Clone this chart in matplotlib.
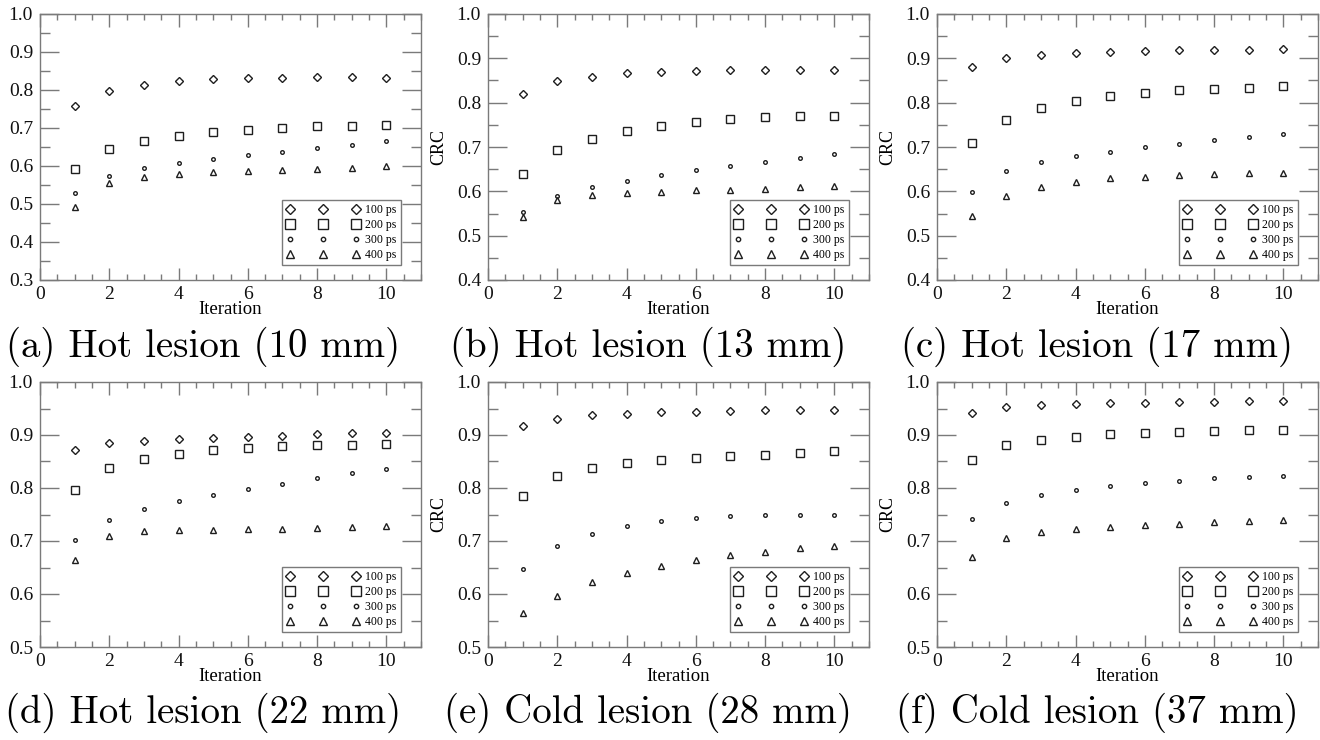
import numpy as np
import matplotlib
matplotlib.use('Agg')
import matplotlib.pyplot as plt
from matplotlib.ticker import MultipleLocator, FormatStrFormatter

plt.rcParams['font.family'] = ['Liberation Serif', 'DejaVu Serif']

iterations = np.arange(1, 11)
labels = ['100 ps', '200 ps', '300 ps', '400 ps']

# CRC values, one list per timing resolution
hot10_100 = [0.757, 0.798, 0.814, 0.824, 0.828, 0.831, 0.832, 0.833, 0.833, 0.832]
hot10_200 = [0.593, 0.644, 0.666, 0.680, 0.689, 0.696, 0.701, 0.704, 0.706, 0.707]
hot10_300 = [0.530, 0.575, 0.594, 0.608, 0.618, 0.629, 0.638, 0.647, 0.656, 0.665]
hot10_400 = [0.493, 0.555, 0.572, 0.579, 0.584, 0.587, 0.590, 0.593, 0.596, 0.600]

hot13_100 = [0.819, 0.848, 0.859, 0.866, 0.870, 0.872, 0.873, 0.873, 0.873, 0.873]
hot13_200 = [0.640, 0.693, 0.719, 0.736, 0.748, 0.757, 0.763, 0.767, 0.769, 0.770]
hot13_300 = [0.553, 0.590, 0.610, 0.624, 0.636, 0.647, 0.657, 0.666, 0.675, 0.684]
hot13_400 = [0.541, 0.581, 0.591, 0.596, 0.599, 0.602, 0.604, 0.606, 0.609, 0.612]

hot17_100 = [0.880, 0.901, 0.908, 0.912, 0.914, 0.916, 0.918, 0.919, 0.919, 0.920]
hot17_200 = [0.708, 0.761, 0.788, 0.804, 0.815, 0.822, 0.828, 0.831, 0.834, 0.837]
hot17_300 = [0.599, 0.645, 0.666, 0.679, 0.689, 0.699, 0.707, 0.715, 0.723, 0.730]
hot17_400 = [0.544, 0.590, 0.610, 0.621, 0.629, 0.633, 0.637, 0.639, 0.641, 0.642]

hot22_100 = [0.872, 0.884, 0.889, 0.893, 0.895, 0.897, 0.899, 0.901, 0.903, 0.903]
hot22_200 = [0.797, 0.838, 0.855, 0.865, 0.871, 0.875, 0.879, 0.881, 0.882, 0.883]
hot22_300 = [0.701, 0.739, 0.760, 0.775, 0.787, 0.799, 0.808, 0.818, 0.828, 0.836]
hot22_400 = [0.665, 0.709, 0.718, 0.720, 0.721, 0.722, 0.723, 0.725, 0.726, 0.728]

cold28_100 = [0.917, 0.931, 0.937, 0.940, 0.943, 0.944, 0.945, 0.947, 0.948, 0.948]
cold28_200 = [0.784, 0.822, 0.838, 0.847, 0.852, 0.857, 0.860, 0.863, 0.866, 0.869]
cold28_300 = [0.647, 0.691, 0.714, 0.728, 0.738, 0.744, 0.748, 0.750, 0.750, 0.749]
cold28_400 = [0.564, 0.597, 0.622, 0.640, 0.653, 0.664, 0.673, 0.680, 0.686, 0.691]

cold37_100 = [0.942, 0.952, 0.956, 0.958, 0.960, 0.961, 0.962, 0.963, 0.964, 0.964]
cold37_200 = [0.853, 0.881, 0.891, 0.897, 0.901, 0.904, 0.906, 0.908, 0.909, 0.910]
cold37_300 = [0.741, 0.771, 0.786, 0.797, 0.804, 0.810, 0.814, 0.818, 0.820, 0.822]
cold37_400 = [0.670, 0.706, 0.717, 0.723, 0.727, 0.730, 0.732, 0.735, 0.737, 0.740]

captions = ['(a) Hot lesion (10 mm)', '(b) Hot lesion (13 mm)', '(c) Hot lesion (17 mm)',
            '(d) Hot lesion (22 mm)', '(e) Cold lesion (28 mm)', '(f) Cold lesion (37 mm)']
ymins = [0.3, 0.4, 0.4, 0.5, 0.5, 0.5]
panels = [
    [hot10_100, hot10_200, hot10_300, hot10_400],
    [hot13_100, hot13_200, hot13_300, hot13_400],
    [hot17_100, hot17_200, hot17_300, hot17_400],
    [hot22_100, hot22_200, hot22_300, hot22_400],
    [cold28_100, cold28_200, cold28_300, cold28_400],
    [cold37_100, cold37_200, cold37_300, cold37_400],
]

markers = ['D', 's', 'o', '^']
msizes = [4.0, 5.5, 2.6, 5.0]
ink = '#1e1e1e'
frame = '#7a7a7a'

W, H = 1320, 740
fig = plt.figure(figsize=(13.2, 7.4), dpi=100)

lefts = [40, 488, 937]
rows = [(14, 280), (382, 647)]
cap_x = [203, 648, 1097]
cap_y = [347, 713]

for i, series in enumerate(panels):
    r, c = divmod(i, 3)
    top, bot = rows[r]
    ax = fig.add_axes([lefts[c] / W, 1 - bot / H, 381 / W, (bot - top) / H])

    for vals, m, ms, lab in zip(series, markers, msizes, labels):
        ax.plot(iterations, vals, linestyle='none', marker=m, markersize=ms,
                markerfacecolor='none', markeredgecolor=ink, markeredgewidth=1.0,
                label=lab)

    ax.set_xlim(0, 11)
    ax.set_ylim(ymins[i], 1.0)
    ax.xaxis.set_major_locator(MultipleLocator(2))
    ax.xaxis.set_minor_locator(MultipleLocator(0.5))
    ax.yaxis.set_major_locator(MultipleLocator(0.1))
    ax.yaxis.set_minor_locator(MultipleLocator(0.05))
    ax.yaxis.set_major_formatter(FormatStrFormatter('%.1f'))
    ax.tick_params(axis='both', which='both', direction='in', top=True, right=True,
                   color=frame, width=1.0, labelsize=14, labelcolor='#111111')
    ax.tick_params(axis='x', which='major', length=9, pad=4)
    ax.tick_params(axis='x', which='minor', length=4.5)
    ax.tick_params(axis='y', which='major', length=14, pad=5)
    ax.tick_params(axis='y', which='minor', length=7)
    for s in ax.spines.values():
        s.set_color(frame)
        s.set_linewidth(1.0)

    ax.set_xlabel('Iteration', fontsize=13.5, labelpad=-1)
    if c > 0:
        ax.set_ylabel('CRC', fontsize=13)
        ax.yaxis.set_label_coords(-0.108, 0.5)

    leg = ax.legend(loc='lower right', bbox_to_anchor=(0.947, 0.056), borderaxespad=0,
                    numpoints=3, handlelength=6.2, handletextpad=0.5, markerscale=1.2,
                    fontsize=8.5, labelspacing=0.25, borderpad=0.35, fancybox=False,
                    framealpha=1, edgecolor=frame)
    leg.get_frame().set_linewidth(1.0)

    fig.text(cap_x[c] / W, 1 - cap_y[r] / H, captions[i], fontsize=28,
             family=['cmr10', 'DejaVu Serif'], ha='center', va='center')

fig.savefig('out.png', dpi=100)
